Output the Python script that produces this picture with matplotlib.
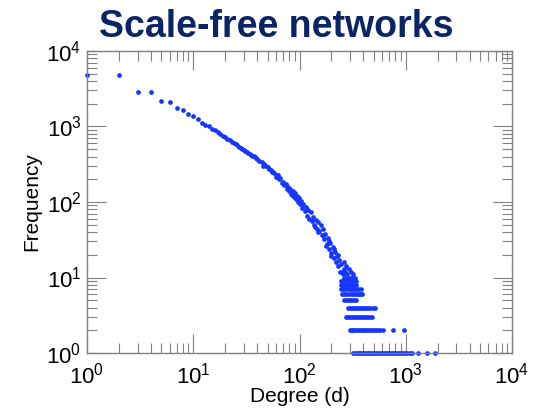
import numpy as np
import matplotlib
matplotlib.use("Agg")
import matplotlib.pyplot as plt
from matplotlib.ticker import LogLocator, LogFormatterSciNotation, NullFormatter

# ── Data ──────────────────────────────────────────────────────────────────────
body_degree = [1, 2, 3, 4, 5, 6, 7, 8, 9, 10, 11, 12, 13, 14,
               15, 16, 17, 18, 19, 20, 21, 22, 23, 24, 25, 26, 27, 28, 29, 30,
               31, 32, 33, 34, 35, 36, 37, 38, 39, 40, 42, 44, 46, 48, 50,
               52, 54, 56, 58, 60, 62, 64, 66, 68, 70, 72, 74, 76, 78, 80,
               82, 84, 86, 88, 90, 92, 94, 96, 98, 100, 103, 106, 109, 112,
               115, 118, 121, 124, 127, 130, 134, 138, 142, 146, 150, 154,
               158, 162, 166, 170, 175, 180, 185, 190, 195, 200, 205, 210,
               215, 220, 225, 230, 235, 240, 245]
body_freq = [4800, 4800, 2900, 2900, 2200, 2100, 1760, 1660, 1450, 1380, 1250, 1100, 1060, 1020,
             930, 890, 850, 790, 745, 720, 690, 660, 630, 600, 585, 565, 540, 525, 505, 490,
             478, 462, 450, 438, 425, 410, 402, 390, 380, 372, 352, 336, 318, 300, 292,
             272, 268, 246, 240, 215, 225, 200, 205, 180, 186, 166, 172, 150, 160, 140,
             150, 128, 140, 118, 130, 110, 121, 100, 112, 95, 104, 84, 95, 76,
             86, 66, 78, 60, 74, 56, 64, 50, 58, 44, 54, 41,
             49, 36, 44, 32, 38, 28, 33, 24, 29, 21, 25, 18,
             22, 16, 19, 14, 17, 12, 15]

# scattered points where counts reach the 10-40 range
mid_degree = [45, 55, 63, 75, 85, 97, 140, 150, 165, 178, 190, 200, 212, 228, 250, 255, 260,
              262, 265, 270, 272, 275, 280, 290, 290, 300, 305, 310, 320, 330]
mid_freq = [300, 250, 230, 168, 125, 116, 46, 40, 36, 26, 30, 19, 24, 20, 12, 11, 13,
            16, 10, 12, 14, 10, 11, 10, 13, 10, 12, 10, 11, 10]

# horizontal rows of small integer counts in the tail
row_f1 = [316, 330, 345, 360, 372, 390, 405, 420, 440, 455, 475, 495, 515, 540, 560, 585,
          610, 640, 665, 695, 725, 760, 790, 825, 860, 900, 940, 985, 1030, 1090, 1150,
          1300, 1580, 1900]
row_f2 = [297, 310, 322, 335, 348, 362, 377, 392, 408, 425, 443, 462, 482, 502, 525, 548,
          575, 605, 755, 960]
row_f3 = [275, 288, 300, 313, 327, 341, 356, 372, 389, 406, 424, 443, 460, 478]
row_f4 = [283, 296, 309, 323, 338, 353, 369, 386, 404, 423, 443, 465, 487, 510]
row_f5 = [265, 276, 288, 300, 313, 327, 340]
row_f6 = [253, 264, 276, 289, 302, 316, 330, 345, 360, 375, 390]
row_f7 = [247, 258, 270, 283, 296, 310, 325, 340, 356, 378]
row_f8 = [245, 256, 268, 281, 294, 308, 322, 337]
row_f9 = [245, 258, 272, 287, 302, 318, 337]
tail_rows = {1: row_f1, 2: row_f2, 3: row_f3, 4: row_f4, 5: row_f5,
             6: row_f6, 7: row_f7, 8: row_f8, 9: row_f9}

# ── Style ─────────────────────────────────────────────────────────────────────
DOT_COLOR = "#1536ff"
TITLE_COLOR = "#0b2466"
SPINE_COLOR = "#808080"

plt.rcParams.update({
    "font.family": ["Liberation Sans", "DejaVu Sans"],
    "mathtext.fontset": "custom",
    "mathtext.rm": "Liberation Sans",
    "mathtext.it": "Liberation Sans:italic",
    "mathtext.bf": "Liberation Sans:bold",
})

fig = plt.figure(figsize=(5.48, 4.11), dpi=100)
ax = fig.add_axes([87 / 548, 58 / 411, 425 / 548, 302 / 411])

deg = list(body_degree) + list(mid_degree)
frq = list(body_freq) + list(mid_freq)
for f, ds in tail_rows.items():
    deg += ds
    frq += [f] * len(ds)

ax.plot(deg, frq, "o", color=DOT_COLOR, ms=3.4, mec="none", clip_on=False)

ax.set_xscale("log")
ax.set_yscale("log")
ax.set_xlim(1, 1e4)
ax.set_ylim(1, 1e4)

for axis in (ax.xaxis, ax.yaxis):
    axis.set_major_locator(LogLocator(base=10, numticks=10))
    axis.set_minor_locator(LogLocator(base=10, subs=np.arange(2, 10), numticks=10))
    axis.set_major_formatter(LogFormatterSciNotation())
    axis.set_minor_formatter(NullFormatter())

ax.tick_params(which="both", direction="in", top=True, right=True,
               color=SPINE_COLOR, width=0.8, labelsize=16, labelcolor="black")
ax.tick_params(which="major", length=14)
ax.tick_params(which="minor", length=7)
ax.tick_params(axis="x", pad=7)
ax.tick_params(axis="y", pad=4)

for sp in ax.spines.values():
    sp.set_color(SPINE_COLOR)
    sp.set_linewidth(1.0)

ax.set_xlabel("Degree (d)", fontsize=15, labelpad=-1)
ax.set_ylabel("Frequency", fontsize=15, labelpad=4)

fig.text(0.505, 0.935, "Scale-free networks", ha="center", va="center",
         fontsize=27, fontweight="bold", color=TITLE_COLOR)

fig.savefig("out.png", dpi=100)
